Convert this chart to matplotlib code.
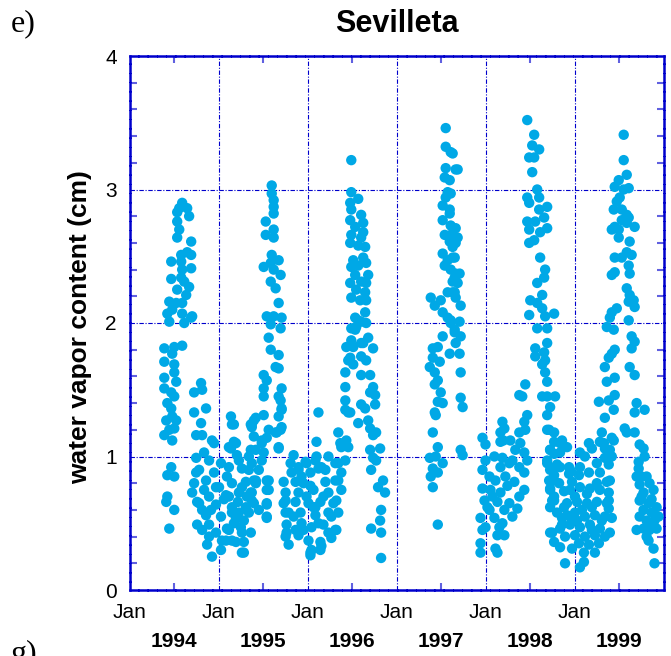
import matplotlib.pyplot as plt
from matplotlib.ticker import MultipleLocator, FixedLocator

# (decimal year, water vapor cm), grouped by season
summer_1994 = [
    (1994.592, 2.90), (1994.559, 2.86), (1994.648, 2.86), (1994.536, 2.83), (1994.670, 2.80),
    (1994.536, 2.76), (1994.559, 2.70), (1994.536, 2.64), (1994.693, 2.61), (1994.648, 2.53),
    (1994.581, 2.51), (1994.693, 2.51), (1994.469, 2.46), (1994.581, 2.46), (1994.693, 2.41),
    (1994.592, 2.40), (1994.469, 2.33), (1994.581, 2.34), (1994.615, 2.31), (1994.670, 2.27),
    (1994.536, 2.25), (1994.637, 2.21), (1994.447, 2.16), (1994.525, 2.15), (1994.592, 2.15),
    (1994.425, 2.07), (1994.480, 2.10), (1994.592, 2.07), (1994.693, 2.04), (1994.447, 2.01),
    (1994.615, 2.00), (1994.704, 2.05),
    (1994.391, 1.81), (1994.503, 1.82), (1994.592, 1.83), (1994.391, 1.71), (1994.480, 1.77),
    (1994.503, 1.69), (1994.503, 1.63), (1994.391, 1.59), (1994.525, 1.56), (1994.391, 1.51),
    (1994.469, 1.48), (1994.503, 1.45), (1994.425, 1.40), (1994.469, 1.36), (1994.413, 1.27),
    (1994.480, 1.30), (1994.525, 1.27), (1994.391, 1.16), (1994.503, 1.21), (1994.480, 1.12),
    (1994.447, 1.20),
    (1994.804, 1.55), (1994.726, 1.48), (1994.816, 1.50), (1994.726, 1.33), (1994.860, 1.36),
    (1994.804, 1.25), (1994.749, 1.16), (1994.816, 1.16),
    (1994.469, 0.92), (1994.425, 0.86), (1994.503, 0.85), (1994.425, 0.70), (1994.413, 0.66),
    (1994.503, 0.60), (1994.447, 0.46),
]

winter_1995 = [
    (1995.140, 1.30), (1995.151, 1.24), (1995.397, 1.27), (1995.374, 1.24), (1995.397, 1.15),
    (1994.927, 1.12), (1994.950, 1.10), (1994.838, 1.03), (1995.173, 1.11), (1995.140, 1.06),
    (1995.207, 1.01), (1994.749, 0.99), (1994.894, 0.97), (1995.028, 0.95), (1995.117, 0.92),
    (1995.263, 0.91), (1995.341, 0.90), (1994.782, 0.90), (1994.726, 0.80), (1994.860, 0.82),
    (1994.972, 0.77), (1995.151, 0.80), (1995.307, 0.81), (1995.419, 0.82), (1994.704, 0.73),
    (1994.894, 0.70), (1995.084, 0.71), (1995.229, 0.73), (1995.374, 0.73), (1994.782, 0.65),
    (1994.972, 0.64), (1995.151, 0.62), (1995.307, 0.62), (1994.860, 0.56), (1995.028, 0.55),
    (1995.196, 0.54), (1995.341, 0.58), (1994.760, 0.49), (1994.894, 0.49), (1995.095, 0.46),
    (1995.251, 0.47), (1994.816, 0.45), (1994.972, 0.43), (1995.039, 0.37), (1995.151, 0.37),
    (1995.285, 0.36), (1994.872, 0.34), (1995.263, 0.28), (1994.927, 0.25), (1994.749, 0.88),
    (1994.760, 0.66), (1995.229, 0.97), (1995.341, 1.00), (1995.419, 1.05), (1995.486, 1.10),
    (1995.117, 1.07), (1995.196, 1.10), (1995.173, 1.24), (1995.363, 1.24), (1995.419, 1.29),
    (1995.508, 1.31), (1995.006, 0.77), (1995.117, 0.70), (1995.263, 0.77), (1995.419, 0.80),
    (1995.151, 0.58), (1995.374, 0.67), (1995.117, 0.45), (1995.263, 0.43), (1995.084, 0.37),
    (1995.196, 0.36), (1995.285, 0.28), (1995.374, 1.22), (1995.486, 1.12), (1995.542, 1.14),
    (1995.363, 1.05), (1995.508, 1.03), (1995.374, 0.95), (1995.486, 0.97), (1995.397, 0.82),
    (1995.542, 0.82), (1995.363, 0.73), (1995.397, 0.65), (1995.542, 0.75), (1995.542, 0.65),
    (1995.542, 0.55), (1995.363, 0.43), (1994.838, 0.75), (1994.916, 0.60), (1995.061, 0.68),
    (1995.218, 0.66), (1995.285, 0.52), (1995.095, 0.85), (1994.950, 0.88), (1995.028, 0.30),
    (1995.229, 0.58), (1995.453, 0.60), (1995.453, 0.90), (1995.173, 0.50), (1994.894, 0.40),
    (1995.318, 0.70), (1994.816, 0.60),
]

summer_1995 = [
    (1995.598, 3.03), (1995.598, 2.97), (1995.620, 2.92), (1995.620, 2.87), (1995.620, 2.82),
    (1995.531, 2.76), (1995.620, 2.70), (1995.531, 2.66), (1995.620, 2.64), (1995.598, 2.51),
    (1995.676, 2.47), (1995.587, 2.45), (1995.508, 2.42), (1995.620, 2.40), (1995.698, 2.36),
    (1995.587, 2.31), (1995.642, 2.26), (1995.676, 2.15), (1995.542, 2.05), (1995.620, 2.05),
    (1995.709, 2.04), (1995.587, 1.99), (1995.698, 1.96), (1995.564, 1.89), (1995.587, 1.80),
    (1995.676, 1.76), (1995.676, 1.66), (1995.508, 1.61), (1995.542, 1.57), (1995.508, 1.51),
    (1995.709, 1.51), (1995.508, 1.45), (1995.698, 1.42), (1995.709, 1.36), (1995.676, 1.30),
    (1995.709, 1.22), (1995.654, 1.18), (1995.676, 1.07), (1995.564, 1.20), (1995.564, 0.82),
    (1995.564, 0.75), (1995.542, 0.64), (1995.542, 0.54), (1995.642, 1.67), (1995.676, 1.45),
    (1995.709, 1.35), (1995.698, 1.20), (1995.642, 1.18), (1995.676, 1.06),
]

winter_1996 = [
    (1995.844, 1.01), (1996.101, 1.00), (1996.235, 1.00), (1995.978, 0.96), (1995.810, 0.95),
    (1996.123, 0.91), (1995.899, 0.90), (1996.033, 0.88), (1996.201, 0.90), (1996.346, 0.95),
    (1996.380, 1.07), (1996.346, 1.18), (1995.732, 0.81), (1995.866, 0.81), (1995.955, 0.80),
    (1996.201, 0.81), (1996.313, 0.82), (1995.754, 0.73), (1995.899, 0.73), (1996.067, 0.75),
    (1996.235, 0.73), (1996.380, 0.75), (1995.732, 0.65), (1995.866, 0.66), (1996.011, 0.65),
    (1996.145, 0.66), (1996.291, 0.65), (1995.754, 0.58), (1995.922, 0.58), (1996.089, 0.56),
    (1996.235, 0.58), (1996.346, 0.58), (1995.765, 0.49), (1995.933, 0.50), (1996.045, 0.47),
    (1996.179, 0.49), (1996.324, 0.45), (1995.754, 0.40), (1995.899, 0.41), (1996.011, 0.37),
    (1996.145, 0.36), (1996.268, 0.39), (1995.788, 0.34), (1996.045, 0.30), (1996.033, 0.26),
    (1996.145, 0.30), (1995.821, 0.88), (1995.899, 0.92), (1995.989, 0.95), (1996.089, 0.97),
    (1996.156, 0.92), (1996.313, 0.95), (1995.754, 0.67), (1995.788, 0.58), (1995.765, 0.43),
    (1996.033, 0.28), (1996.156, 0.33), (1996.235, 0.43), (1996.313, 0.45), (1996.089, 0.62),
    (1996.324, 0.67), (1996.346, 0.82), (1996.380, 0.88), (1996.425, 0.97), (1996.369, 1.10),
    (1996.123, 1.33), (1996.101, 1.11), (1995.844, 0.55), (1995.955, 0.45), (1996.067, 0.62),
    (1996.179, 0.70), (1995.989, 0.70), (1995.866, 0.45), (1996.123, 0.50), (1996.268, 0.55),
    (1995.933, 0.85), (1996.033, 0.78),
]

summer_1996 = [
    (1996.492, 3.22), (1996.492, 2.98), (1996.570, 2.93), (1996.480, 2.90), (1996.492, 2.85),
    (1996.603, 2.81), (1996.480, 2.77), (1996.626, 2.75), (1996.536, 2.72), (1996.626, 2.68),
    (1996.492, 2.66), (1996.603, 2.64), (1996.480, 2.60), (1996.570, 2.58), (1996.648, 2.57),
    (1996.626, 2.49), (1996.514, 2.47), (1996.492, 2.42), (1996.570, 2.43), (1996.659, 2.45),
    (1996.536, 2.36), (1996.682, 2.36), (1996.603, 2.31), (1996.480, 2.30), (1996.659, 2.30),
    (1996.547, 2.25), (1996.648, 2.23), (1996.492, 2.19), (1996.659, 2.17), (1996.592, 2.17),
    (1996.648, 2.08), (1996.536, 2.04), (1996.603, 2.01), (1996.659, 2.00), (1996.492, 1.96),
    (1996.547, 1.97), (1996.682, 1.89), (1996.492, 1.87), (1996.737, 1.81), (1996.626, 1.85),
    (1996.514, 1.82), (1996.603, 1.75), (1996.480, 1.74), (1996.659, 1.72), (1996.514, 1.69),
    (1996.603, 1.61), (1996.704, 1.61), (1996.737, 1.52), (1996.704, 1.48), (1996.760, 1.46),
    (1996.603, 1.39), (1996.648, 1.36), (1996.760, 1.39), (1996.480, 1.33), (1996.570, 1.25),
    (1996.682, 1.27), (1996.704, 1.21), (1996.737, 1.16), (1996.771, 1.18), (1996.816, 1.06),
    (1996.704, 1.05), (1996.737, 0.99), (1996.715, 0.90), (1996.771, 0.97), (1996.849, 0.82),
    (1996.793, 0.77), (1996.871, 0.73), (1996.827, 0.60), (1996.816, 0.52), (1996.715, 0.46),
    (1996.827, 0.43), (1996.827, 0.24), (1996.436, 1.82), (1996.458, 1.72), (1996.425, 1.63),
    (1996.425, 1.52), (1996.425, 1.42), (1996.458, 1.33), (1996.436, 1.12), (1996.458, 1.07),
    (1996.425, 1.35), (1996.603, 1.85), (1996.536, 1.95), (1996.570, 2.02),
]

summer_1997 = [
    (1997.553, 3.46), (1997.553, 3.32), (1997.631, 3.27), (1997.553, 3.16), (1997.665, 3.15),
    (1997.542, 3.09), (1997.575, 2.98), (1997.553, 2.94), (1997.519, 2.88), (1997.598, 2.82),
    (1997.519, 2.77), (1997.609, 2.73), (1997.542, 2.66), (1997.598, 2.61), (1997.665, 2.60),
    (1997.519, 2.52), (1997.575, 2.47), (1997.631, 2.49), (1997.542, 2.43), (1997.609, 2.40),
    (1997.665, 2.37), (1997.631, 2.31), (1997.575, 2.23), (1997.654, 2.23), (1997.385, 2.19),
    (1997.497, 2.17), (1997.430, 2.13), (1997.519, 2.08), (1997.575, 2.04), (1997.609, 2.00),
    (1997.654, 1.93), (1997.519, 1.90), (1997.408, 1.81), (1997.464, 1.82), (1997.598, 1.77),
    (1997.408, 1.74), (1997.486, 1.71), (1997.374, 1.67), (1997.430, 1.63), (1997.464, 1.57),
    (1997.430, 1.54), (1997.497, 1.48), (1997.464, 1.41), (1997.519, 1.40), (1997.430, 1.33),
    (1997.441, 1.31), (1997.408, 1.18), (1997.464, 1.07), (1997.374, 0.99), (1997.441, 1.00),
    (1997.519, 0.95), (1997.408, 0.91), (1997.464, 0.88), (1997.385, 0.85), (1997.408, 0.77),
    (1997.464, 0.49), (1997.609, 3.28), (1997.687, 3.15), (1997.598, 3.07), (1997.609, 2.97),
    (1997.598, 2.85), (1997.665, 2.71), (1997.609, 2.66), (1997.687, 2.64), (1997.631, 2.57),
    (1997.654, 2.49), (1997.709, 2.37), (1997.654, 2.34), (1997.687, 2.30), (1997.631, 2.23),
    (1997.665, 2.19), (1997.721, 2.13), (1997.609, 2.02), (1997.709, 2.01), (1997.654, 1.95),
    (1997.721, 1.90), (1997.665, 1.85), (1997.709, 1.77), (1997.721, 1.63), (1997.721, 1.44),
    (1997.743, 1.37), (1997.721, 1.05), (1997.743, 1.01),
]

winter_1998 = [
    (1998.447, 1.54), (1998.380, 1.46), (1998.413, 1.45), (1998.469, 1.31), (1998.436, 1.26),
    (1998.190, 1.26), (1998.168, 1.18), (1998.380, 1.18), (1998.447, 1.20), (1997.966, 1.14),
    (1998.279, 1.12), (1998.168, 1.11), (1998.391, 1.10), (1998.335, 1.05), (1998.436, 1.03),
    (1998.000, 0.97), (1998.100, 1.00), (1998.190, 0.99), (1998.302, 0.97), (1998.469, 0.97),
    (1997.966, 0.90), (1998.168, 0.92), (1998.380, 0.92), (1998.045, 0.85), (1998.112, 0.82),
    (1998.223, 0.85), (1998.436, 0.88), (1998.324, 0.81), (1997.966, 0.76), (1998.056, 0.75),
    (1998.168, 0.73), (1998.436, 0.75), (1998.380, 0.70), (1997.989, 0.67), (1998.134, 0.66),
    (1998.268, 0.65), (1998.045, 0.60), (1998.212, 0.60), (1998.358, 0.61), (1997.944, 0.54),
    (1998.100, 0.54), (1998.302, 0.55), (1998.000, 0.47), (1998.156, 0.47), (1998.212, 0.41),
    (1998.134, 0.41), (1997.966, 0.45), (1997.944, 0.35), (1998.112, 0.31), (1997.944, 0.28),
    (1998.134, 0.28), (1998.000, 1.09), (1998.212, 1.21), (1998.201, 1.12), (1998.078, 0.70),
    (1998.246, 0.78), (1998.022, 0.62), (1998.268, 0.95), (1998.190, 0.50),
]

summer_1998 = [
    (1998.469, 3.52), (1998.547, 3.41), (1998.525, 3.33), (1998.603, 3.30), (1998.491, 3.24),
    (1998.547, 3.24), (1998.525, 3.13), (1998.581, 3.00), (1998.469, 2.94), (1998.603, 2.94),
    (1998.491, 2.90), (1998.693, 2.87), (1998.603, 2.85), (1998.469, 2.76), (1998.559, 2.76),
    (1998.659, 2.79), (1998.693, 2.71), (1998.491, 2.70), (1998.614, 2.68), (1998.547, 2.62),
    (1998.491, 2.60), (1998.614, 2.49), (1998.670, 2.40), (1998.659, 2.34), (1998.581, 2.30),
    (1998.503, 2.17), (1998.637, 2.21), (1998.581, 2.15), (1998.491, 2.06), (1998.637, 2.11),
    (1998.670, 2.05), (1998.771, 2.07), (1998.693, 1.96), (1998.581, 1.96), (1998.693, 1.85),
    (1998.559, 1.81), (1998.659, 1.78), (1998.559, 1.75), (1998.670, 1.72), (1998.637, 1.69),
    (1998.670, 1.63), (1998.693, 1.56), (1998.637, 1.45), (1998.693, 1.45), (1998.782, 1.45),
    (1998.726, 1.37), (1998.693, 1.31), (1998.715, 1.20), (1998.771, 1.11), (1998.726, 1.05),
    (1998.693, 0.97), (1998.726, 0.90), (1998.715, 0.82), (1998.726, 0.75), (1998.771, 0.70),
    (1998.726, 0.43), (1998.838, 1.10), (1998.916, 1.07), (1998.771, 1.02), (1998.804, 0.94),
    (1998.838, 0.92), (1998.961, 0.89), (1998.939, 0.87), (1998.771, 0.82), (1998.883, 0.74),
    (1998.771, 0.67), (1998.804, 0.58), (1998.771, 0.36), (1998.860, 0.49),
]

winter_1999 = [
    (1998.693, 1.20), (1998.771, 1.18), (1998.860, 1.12), (1998.726, 1.05), (1998.838, 1.03),
    (1998.693, 0.95), (1998.782, 0.92), (1998.939, 0.92), (1998.771, 0.86), (1998.827, 0.80),
    (1998.726, 0.76), (1998.972, 0.81), (1998.749, 0.67), (1998.726, 0.62), (1998.883, 0.62),
    (1998.860, 0.54), (1998.749, 0.43), (1998.894, 0.20), (1998.950, 0.75), (1999.061, 0.77),
    (1999.173, 0.76), (1999.285, 0.75), (1999.385, 0.73), (1999.050, 0.86), (1999.162, 0.88),
    (1999.285, 0.88), (1999.363, 0.81), (1999.061, 0.92), (1999.251, 0.95), (1999.341, 0.99),
    (1999.117, 1.00), (1999.195, 1.06), (1999.330, 1.10), (1999.441, 1.12), (1999.285, 1.11),
    (1999.061, 1.03), (1999.162, 1.10), (1998.916, 0.65), (1999.028, 0.66), (1999.140, 0.65),
    (1999.251, 0.66), (1999.363, 0.65), (1998.916, 0.56), (1999.005, 0.58), (1999.117, 0.55),
    (1999.229, 0.56), (1999.341, 0.55), (1998.950, 0.49), (1999.061, 0.47), (1999.173, 0.49),
    (1999.285, 0.46), (1998.838, 0.46), (1999.005, 0.41), (1999.117, 0.40), (1999.229, 0.41),
    (1999.341, 0.40), (1999.050, 0.35), (1999.162, 0.34), (1999.274, 0.35), (1999.106, 0.28),
    (1999.229, 0.28), (1999.061, 0.17), (1999.106, 0.21), (1998.972, 0.31), (1999.397, 0.43),
    (1999.419, 0.54), (1999.385, 0.61), (1999.385, 0.67), (1998.838, 0.32), (1999.307, 1.18),
    (1999.419, 1.14), (1999.341, 1.06), (1999.397, 1.05), (1999.385, 0.94), (1999.419, 1.00),
    (1999.397, 0.82), (1999.084, 0.60), (1999.195, 0.62), (1998.972, 0.52), (1999.307, 0.52),
    (1999.195, 0.45), (1999.140, 0.72), (1999.251, 0.80), (1999.005, 0.70), (1998.894, 0.40),
    (1999.028, 0.52),
]

summer_1999 = [
    (1999.274, 1.41), (1999.385, 1.42), (1999.452, 1.46), (1999.341, 1.29), (1999.441, 1.35),
    (1999.363, 1.56), (1999.452, 1.59), (1999.341, 1.67), (1999.419, 1.77), (1999.452, 1.80),
    (1999.385, 1.74), (1999.363, 1.97), (1999.441, 1.95), (1999.397, 2.04), (1999.475, 2.11),
    (1999.419, 2.08), (1999.452, 2.38), (1999.419, 2.36), (1999.452, 2.49), (1999.419, 2.70),
    (1999.497, 2.64), (1999.452, 2.72), (1999.441, 2.85), (1999.475, 2.91), (1999.508, 2.94),
    (1999.452, 3.02), (1999.497, 3.07), (1999.553, 3.22), (1999.553, 3.41), (1999.587, 3.11),
    (1999.609, 3.01), (1999.553, 3.00), (1999.531, 2.85), (1999.587, 2.81), (1999.531, 2.77),
    (1999.609, 2.79), (1999.676, 2.72), (1999.587, 2.75), (1999.497, 2.70), (1999.620, 2.61),
    (1999.587, 2.53), (1999.642, 2.51), (1999.531, 2.49), (1999.609, 2.43), (1999.620, 2.37),
    (1999.587, 2.26), (1999.620, 2.21), (1999.665, 2.17), (1999.609, 2.16), (1999.676, 2.12),
    (1999.609, 2.02), (1999.642, 1.90), (1999.676, 1.86), (1999.642, 1.81), (1999.620, 1.67),
    (1999.676, 1.61), (1999.698, 1.40), (1999.788, 1.35), (1999.676, 1.33), (1999.564, 1.21),
    (1999.587, 1.18), (1999.676, 1.18), (1999.732, 1.09), (1999.776, 1.06),
]

fall_1999 = [
    (1999.721, 0.96), (1999.788, 1.00), (1999.721, 0.91), (1999.810, 0.85), (1999.698, 0.85),
    (1999.732, 0.79), (1999.843, 0.80), (1999.776, 0.73), (1999.888, 0.75), (1999.732, 0.67),
    (1999.832, 0.65), (1999.922, 0.62), (1999.776, 0.60), (1999.866, 0.58), (1999.732, 0.55),
    (1999.810, 0.52), (1999.899, 0.52), (1999.698, 0.45), (1999.776, 0.46), (1999.843, 0.45),
    (1999.922, 0.46), (1999.832, 0.37), (1999.888, 0.31), (1999.899, 0.20), (1999.843, 0.50),
    (1999.754, 0.70), (1999.866, 0.68), (1999.810, 0.40), (1999.944, 0.55), (1999.754, 0.85),
]

seasons = [summer_1994, winter_1995, summer_1995, winter_1996, summer_1996,
           summer_1997, winter_1998, summer_1998, winter_1999, summer_1999, fall_1999]

years = [1994, 1995, 1996, 1997, 1998, 1999]
year_labels = ['1994', '1995', '1996', '1997', '1998', '1999']

plt.rcParams['font.family'] = ['Liberation Sans', 'DejaVu Sans']

frame_blue = '#0000CC'
dot_color = '#00A8E6'

fig = plt.figure(figsize=(6.71, 6.56), dpi=100)
ax = fig.add_axes([129.5 / 671, 1 - 590 / 656, 534 / 671, 534 / 656])

for season in seasons:
    t = [p[0] for p in season]
    w = [p[1] for p in season]
    ax.scatter(t, w, s=56, color=dot_color, edgecolors='none', zorder=3)

ax.set_xlim(1994, 2000)
ax.set_ylim(0, 4)

# major ticks on January, minor ones mid-year
ax.xaxis.set_major_locator(FixedLocator(years + [2000]))
ax.set_xticklabels(['Jan'] * len(years) + [''])
ax.xaxis.set_minor_locator(FixedLocator([y + 0.5 for y in years]))
ax.yaxis.set_major_locator(MultipleLocator(1))
ax.yaxis.set_minor_locator(MultipleLocator(0.2))

ax.tick_params(which='both', direction='in', top=True, right=True,
               labelsize=15, labelcolor='black')
ax.tick_params(which='major', length=0, pad=9)
ax.tick_params(which='minor', length=5, width=1.5, color='#6060E0')

ax.grid(True, which='major', color=frame_blue, linestyle=(0, (4, 1.5, 1, 1.5)), linewidth=0.8)
ax.set_axisbelow(True)

for sp in ax.spines.values():
    sp.set_color(frame_blue)
    sp.set_linewidth(1.8)
    sp.set_linestyle((0, (3, 0.7)))

# year names under the January labels
for y, lab in zip(years, year_labels):
    ax.text(y + 0.5, -0.096, lab, transform=ax.get_xaxis_transform(),
            ha='center', va='center', fontsize=15, fontweight='bold')

fig.text(80 / 671, 1 - 327 / 656, 'water vapor content (cm)', rotation=90,
         ha='center', va='center', fontsize=19, fontweight='bold')
fig.text(397 / 671, 1 - 24 / 656, 'Sevilleta', ha='center', va='center',
         fontsize=22, fontweight='bold')
fig.text(11 / 671, 1 - 24 / 656, 'e)', ha='left', va='center',
         fontsize=23, family=['Liberation Serif', 'DejaVu Serif'])
# the next panel's label, cut by the lower edge as in the source
fig.text(11 / 671, 1 - 640 / 656, 'g)', ha='left', va='top',
         fontsize=23, family=['Liberation Serif', 'DejaVu Serif'])

fig.savefig('out.png', dpi=100)
